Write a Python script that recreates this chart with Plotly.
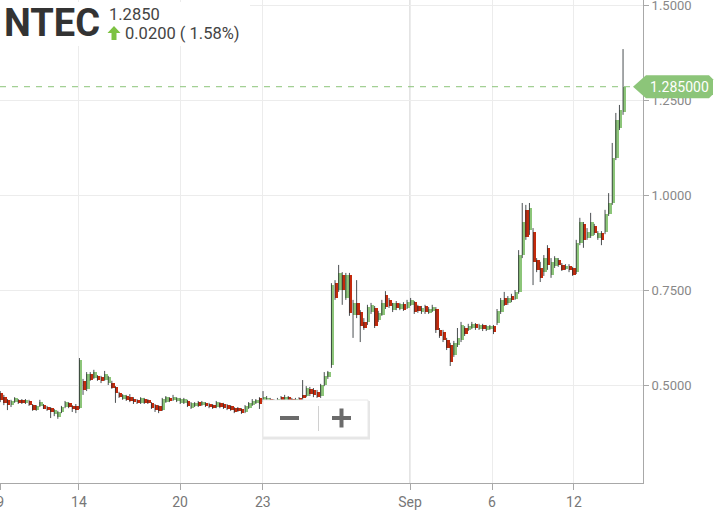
import plotly.graph_objects as go

# ---------------- data ----------------
open_ = [0.479, 0.468, 0.461, 0.447, 0.455, 0.461, 0.461, 0.453, 0.458, 0.447,
         0.434, 0.445, 0.447, 0.442, 0.439, 0.424, 0.416, 0.429, 0.442, 0.453,
         0.445, 0.445, 0.439, 0.511, 0.490, 0.529, 0.518, 0.524, 0.521, 0.513,
         0.505, 0.505, 0.495, 0.479, 0.463, 0.471, 0.468, 0.463, 0.461, 0.453,
         0.463, 0.461, 0.453, 0.447, 0.445, 0.434, 0.455, 0.466, 0.461, 0.458,
         0.453, 0.453, 0.458, 0.439, 0.445, 0.455, 0.447, 0.453, 0.450, 0.447,
         0.442, 0.453, 0.450, 0.447, 0.445, 0.439, 0.439, 0.437, 0.429, 0.439,
         0.447, 0.453, 0.466, 0.461, 0.458, 0.463, 0.461, 0.453, 0.468, 0.458,
         0.468, 0.463, 0.453, 0.466, 0.474, 0.471, 0.490, 0.487, 0.482, 0.471,
         0.500, 0.521, 0.553, 0.768, 0.750, 0.790, 0.729, 0.790, 0.684, 0.716,
         0.692, 0.666, 0.666, 0.692, 0.703, 0.671, 0.684, 0.737, 0.724, 0.697,
         0.716, 0.700, 0.713, 0.703, 0.711, 0.718, 0.708, 0.692, 0.708, 0.690,
         0.695, 0.700, 0.645, 0.640, 0.618, 0.605, 0.579, 0.605, 0.618, 0.650,
         0.645, 0.650, 0.661, 0.647, 0.658, 0.645, 0.647, 0.655, 0.663, 0.692,
         0.729, 0.716, 0.734, 0.726, 0.745, 0.842, 0.961, 0.908, 0.903, 0.829,
         0.808, 0.797, 0.861, 0.790, 0.813, 0.829, 0.816, 0.805, 0.813, 0.808,
         0.797, 0.874, 0.924, 0.887, 0.892, 0.918, 0.887, 0.900, 0.903, 0.950,
         0.979, 1.097, 1.176, 1.218]
high = [0.484, 0.474, 0.463, 0.461, 0.468, 0.463, 0.463, 0.463, 0.461, 0.450,
        0.447, 0.461, 0.450, 0.445, 0.442, 0.437, 0.432, 0.445, 0.458, 0.455,
        0.447, 0.450, 0.571, 0.516, 0.534, 0.534, 0.540, 0.526, 0.524, 0.537,
        0.524, 0.511, 0.497, 0.482, 0.476, 0.474, 0.476, 0.468, 0.463, 0.468,
        0.466, 0.463, 0.455, 0.450, 0.447, 0.466, 0.471, 0.468, 0.474, 0.468,
        0.466, 0.466, 0.461, 0.455, 0.455, 0.458, 0.458, 0.455, 0.453, 0.450,
        0.458, 0.455, 0.453, 0.450, 0.447, 0.442, 0.442, 0.439, 0.447, 0.455,
        0.463, 0.463, 0.468, 0.484, 0.471, 0.466, 0.463, 0.466, 0.471, 0.474,
        0.471, 0.466, 0.466, 0.468, 0.513, 0.497, 0.495, 0.492, 0.487, 0.503,
        0.534, 0.537, 0.768, 0.776, 0.816, 0.797, 0.795, 0.795, 0.724, 0.776,
        0.697, 0.676, 0.711, 0.716, 0.708, 0.695, 0.724, 0.747, 0.729, 0.716,
        0.721, 0.716, 0.718, 0.724, 0.729, 0.721, 0.711, 0.708, 0.711, 0.705,
        0.711, 0.705, 0.650, 0.645, 0.624, 0.611, 0.616, 0.650, 0.666, 0.655,
        0.661, 0.666, 0.663, 0.661, 0.661, 0.658, 0.658, 0.658, 0.700, 0.729,
        0.745, 0.734, 0.740, 0.750, 0.855, 0.979, 0.974, 0.979, 0.913, 0.834,
        0.824, 0.842, 0.868, 0.834, 0.839, 0.834, 0.821, 0.818, 0.818, 0.811,
        0.882, 0.940, 0.929, 0.913, 0.953, 0.924, 0.905, 0.905, 0.961, 1.005,
        1.137, 1.216, 1.237, 1.384]
low = [0.455, 0.447, 0.434, 0.442, 0.453, 0.450, 0.450, 0.450, 0.445, 0.432,
       0.432, 0.442, 0.437, 0.432, 0.413, 0.418, 0.411, 0.426, 0.439, 0.439,
       0.429, 0.426, 0.437, 0.474, 0.484, 0.511, 0.516, 0.511, 0.505, 0.511,
       0.500, 0.490, 0.453, 0.466, 0.461, 0.458, 0.455, 0.450, 0.450, 0.450,
       0.450, 0.450, 0.437, 0.429, 0.426, 0.432, 0.453, 0.455, 0.458, 0.455,
       0.450, 0.450, 0.442, 0.437, 0.442, 0.442, 0.445, 0.442, 0.439, 0.437,
       0.439, 0.439, 0.437, 0.434, 0.432, 0.426, 0.429, 0.424, 0.426, 0.437,
       0.445, 0.450, 0.437, 0.455, 0.453, 0.447, 0.447, 0.450, 0.455, 0.455,
       0.453, 0.447, 0.450, 0.450, 0.461, 0.468, 0.471, 0.468, 0.466, 0.466,
       0.497, 0.516, 0.545, 0.724, 0.745, 0.711, 0.724, 0.682, 0.624, 0.676,
       0.613, 0.645, 0.658, 0.687, 0.650, 0.666, 0.682, 0.700, 0.703, 0.692,
       0.697, 0.697, 0.695, 0.700, 0.708, 0.687, 0.690, 0.687, 0.687, 0.687,
       0.692, 0.637, 0.624, 0.613, 0.592, 0.550, 0.574, 0.600, 0.613, 0.629,
       0.642, 0.647, 0.645, 0.645, 0.642, 0.642, 0.645, 0.634, 0.658, 0.687,
       0.708, 0.711, 0.718, 0.724, 0.740, 0.834, 0.882, 0.895, 0.763, 0.797,
       0.771, 0.787, 0.803, 0.782, 0.808, 0.811, 0.800, 0.803, 0.797, 0.787,
       0.792, 0.868, 0.861, 0.882, 0.887, 0.895, 0.882, 0.868, 0.897, 0.945,
       0.974, 1.092, 1.171, 1.211]
close = [0.461, 0.453, 0.447, 0.458, 0.466, 0.453, 0.453, 0.461, 0.447, 0.434,
         0.445, 0.455, 0.437, 0.434, 0.429, 0.434, 0.429, 0.442, 0.455, 0.442,
         0.437, 0.434, 0.566, 0.487, 0.529, 0.513, 0.534, 0.513, 0.511, 0.529,
         0.521, 0.492, 0.479, 0.468, 0.474, 0.461, 0.458, 0.455, 0.453, 0.466,
         0.453, 0.453, 0.439, 0.434, 0.432, 0.463, 0.468, 0.458, 0.468, 0.466,
         0.463, 0.463, 0.445, 0.453, 0.453, 0.445, 0.455, 0.445, 0.442, 0.439,
         0.455, 0.442, 0.439, 0.437, 0.434, 0.429, 0.432, 0.426, 0.445, 0.453,
         0.458, 0.461, 0.450, 0.468, 0.466, 0.453, 0.450, 0.463, 0.461, 0.468,
         0.458, 0.453, 0.463, 0.455, 0.466, 0.492, 0.476, 0.474, 0.468, 0.500,
         0.524, 0.534, 0.763, 0.729, 0.795, 0.750, 0.790, 0.690, 0.716, 0.684,
         0.655, 0.650, 0.705, 0.711, 0.655, 0.690, 0.716, 0.705, 0.708, 0.716,
         0.703, 0.713, 0.697, 0.718, 0.724, 0.692, 0.695, 0.703, 0.692, 0.700,
         0.705, 0.645, 0.629, 0.618, 0.597, 0.561, 0.611, 0.624, 0.658, 0.634,
         0.655, 0.661, 0.650, 0.658, 0.647, 0.655, 0.655, 0.640, 0.695, 0.724,
         0.711, 0.729, 0.724, 0.745, 0.842, 0.929, 0.890, 0.966, 0.824, 0.803,
         0.782, 0.834, 0.816, 0.824, 0.834, 0.816, 0.803, 0.813, 0.803, 0.790,
         0.874, 0.929, 0.882, 0.903, 0.929, 0.900, 0.900, 0.882, 0.950, 0.979,
         1.097, 1.197, 1.224, 1.285]

x_tick_pos = [-0.35, 21.5, 49.6, 72.6, 113.5, 136.25, 159.0]
x_tick_text = ["9", "14", "20", "23", "Sep", "6", "12"]
y_tick_vals = [0.5, 0.75, 1.0, 1.25, 1.5]
y_tick_text = ["0.5000", "0.7500", "1.0000", "1.2500", "1.5000"]

ticker = "NTEC"
last_text = "1.2850"
change_text = "0.0200 ( 1.58%)"
tag_text = "1.285000"

# ---------------- styling ----------------
W, H = 714, 519
ML, MR, MT, MB = 0, 71, 0, 36
PW, PH = W - ML - MR, H - MT - MB
Y_RANGE = [0.2421, 1.5132]
GREEN = "#8cc579"
RED = "#c42a0c"
WICK = "#2c3134"
FONT = "Roboto"


def px(x):
    return x / PW


def py(y):
    return 1 - y / PH


idx = list(range(len(close)))
body = [c - o for o, c in zip(open_, close)]
colors = [GREEN if c >= o else RED for o, c in zip(open_, close)]

wick_x, wick_y = [], []
for i, (h, l) in enumerate(zip(high, low)):
    wick_x += [i - 0.35, i - 0.35, None]
    wick_y += [l, h, None]

fig = go.Figure()
fig.add_trace(go.Bar(x=idx, y=body, base=open_, width=0.98,
                     marker=dict(color=colors, line=dict(width=0))))
fig.add_trace(go.Scatter(x=wick_x, y=wick_y, mode="lines",
                         line=dict(color=WICK, width=1), opacity=0.85, hoverinfo="skip"))

last = close[-1]
step = 3.6  # pixels per candle slot
x_range = [-1.5 / step, (PW - 1.5) / step]
ppu = PH / (Y_RANGE[1] - Y_RANGE[0])  # pixels per price unit
t_half = 11.5 / ppu
rr = 4 / ppu

shapes = []
# darker month-boundary grid line
shapes.append(dict(type="line", xref="x", yref="paper", x0=x_tick_pos[4], x1=x_tick_pos[4],
                   y0=0, y1=1, line=dict(color="#d6d6d6", width=1.5), layer="below"))
# last price dashed line
shapes.append(dict(type="line", xref="paper", yref="y", x0=0, x1=1, y0=last, y1=last,
                   line=dict(color=GREEN, width=1, dash="6px,6px"), layer="above"))
# price tag (arrow shape)
shapes.append(dict(type="path", xref="paper", yref="y", layer="above",
                   path=(f"M {px(633)},{last} L {px(646)},{last + t_half} "
                         f"L {px(709)},{last + t_half} L {px(713)},{last + t_half - rr} "
                         f"L {px(713)},{last - t_half + rr} L {px(709)},{last - t_half} "
                         f"L {px(646)},{last - t_half} Z"),
                   fillcolor=GREEN, line=dict(width=0)))
# white background behind title
shapes.append(dict(type="rect", xref="paper", yref="paper", x0=0, x1=px(250), y0=py(46), y1=py(2),
                   fillcolor="white", line=dict(width=0), layer="above"))
# green up arrow
shapes.append(dict(type="path", xref="paper", yref="paper", layer="above",
                   path=(f"M {px(107.5)},{py(33)} L {px(114)},{py(26)} L {px(120.5)},{py(33)} "
                         f"L {px(116.5)},{py(33)} L {px(116.5)},{py(40)} L {px(111.5)},{py(40)} "
                         f"L {px(111.5)},{py(33)} Z"),
                   fillcolor="#7dc242", line=dict(width=0)))
# zoom buttons box (shadow + box)
shapes.append(dict(type="rect", xref="paper", yref="paper", x0=px(263), x1=px(370), y0=py(439.5), y1=py(401),
                   fillcolor="#e6e6e6", line=dict(width=0), layer="above"))
shapes.append(dict(type="rect", xref="paper", yref="paper", x0=px(263), x1=px(368), y0=py(437), y1=py(400),
                   fillcolor="white", line=dict(color="#e8e8e8", width=1), layer="above"))
shapes.append(dict(type="line", xref="paper", yref="paper", x0=px(318.5), x1=px(318.5), y0=py(431), y1=py(406),
                   line=dict(color="#d0d0d0", width=1), layer="above"))
# minus and plus glyphs
shapes.append(dict(type="rect", xref="paper", yref="paper", x0=px(280), x1=px(299), y0=py(420), y1=py(416),
                   fillcolor="#6b6b6b", line=dict(width=0), layer="above"))
shapes.append(dict(type="rect", xref="paper", yref="paper", x0=px(332), x1=px(351), y0=py(420), y1=py(416),
                   fillcolor="#6b6b6b", line=dict(width=0), layer="above"))
shapes.append(dict(type="rect", xref="paper", yref="paper", x0=px(339.5), x1=px(343.5), y0=py(427.5), y1=py(408.5),
                   fillcolor="#6b6b6b", line=dict(width=0), layer="above"))

annotations = [
    dict(text=f"<b>{ticker}</b>", xref="paper", yref="paper", x=px(2), y=py(23),
         xanchor="left", yanchor="middle", showarrow=False,
         font=dict(family=FONT, size=38, color="#333333")),
    dict(text=last_text, xref="paper", yref="paper", x=px(107), y=py(15),
         xanchor="left", yanchor="middle", showarrow=False,
         font=dict(family=FONT, size=16.5, color="#444444")),
    dict(text=change_text, xref="paper", yref="paper", x=px(123), y=py(33),
         xanchor="left", yanchor="middle", showarrow=False,
         font=dict(family=FONT, size=16.5, color="#444444")),
    dict(text=tag_text, xref="paper", yref="y", x=px(679), y=last,
         xanchor="center", yanchor="middle", showarrow=False,
         font=dict(family=FONT, size=14, color="white")),
]

fig.update_layout(
    width=W, height=H,
    margin=dict(l=ML, r=MR, t=MT, b=MB, autoexpand=False),
    paper_bgcolor="white", plot_bgcolor="white",
    showlegend=False, hovermode=False,
    shapes=shapes, annotations=annotations,
    bargap=0,
    xaxis=dict(range=x_range, tickmode="array", tickvals=x_tick_pos, ticktext=x_tick_text,
               showgrid=True, gridcolor="#ececec", gridwidth=1,
               showline=True, linecolor="#a8a8a8", linewidth=1,
               ticks="outside", ticklen=6, tickcolor="#a8a8a8",
               tickfont=dict(family=FONT, size=14, color="#777777"),
               ticklabeloverflow="allow",
               zeroline=False, fixedrange=True),
    yaxis=dict(range=Y_RANGE, side="right", tickmode="array",
               tickvals=y_tick_vals, ticktext=y_tick_text,
               showgrid=True, gridcolor="#ececec", gridwidth=1,
               showline=True, linecolor="#a8a8a8", linewidth=1,
               ticks="outside", ticklen=5, tickcolor="#a8a8a8",
               tickfont=dict(family=FONT, size=13, color="#888888"),
               ticklabeloverflow="allow",
               zeroline=False, fixedrange=True),
)

fig.write_html("out.html", config={"displayModeBar": False},
               post_script="document.body.style.margin='0';document.body.style.overflow='hidden';")
